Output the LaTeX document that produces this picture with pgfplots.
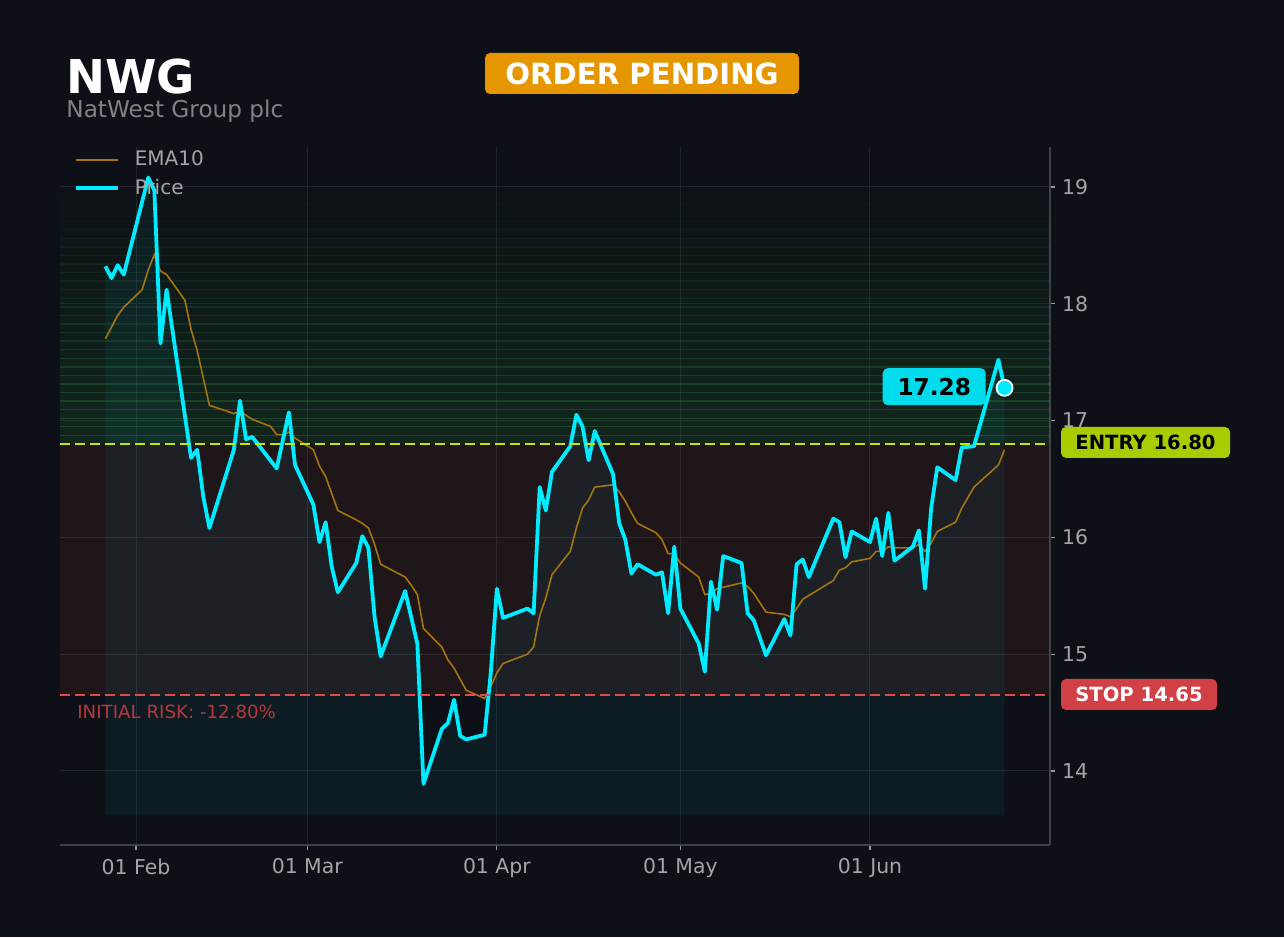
\documentclass[border=0pt]{standalone}
\usepackage{fontspec}
\setmainfont{DejaVu Sans}
\usepackage{pgfplots}
\usepackage{pgfplotstable}
\pgfplotsset{compat=1.18}

\definecolor{bgc}{RGB}{13,17,23}
\definecolor{gridc}{RGB}{32,37,44}
\definecolor{spinec}{RGB}{62,66,72}
\definecolor{tickc}{RGB}{150,150,150}
\definecolor{labc}{RGB}{165,165,165}
\definecolor{legc}{RGB}{165,165,165}
\definecolor{pricec}{RGB}{0,235,255}
\definecolor{emac}{RGB}{165,115,15}
\definecolor{greenc}{RGB}{46,160,67}
\definecolor{redzone}{RGB}{248,81,73}
\definecolor{entryc}{RGB}{200,228,0}
\definecolor{stopc}{RGB}{226,74,74}
\definecolor{entrybox}{RGB}{168,204,0}
\definecolor{stopbox}{RGB}{208,64,69}
\definecolor{orangec}{RGB}{230,150,0}
\definecolor{lastbox}{RGB}{0,220,235}
\definecolor{subc}{RGB}{130,130,130}
\definecolor{riskc}{RGB}{185,55,58}

\pgfplotstableread{
d v
26 18.32
27 18.22
28 18.33
29 18.25
33 19.08
34 18.97
35 17.66
36 18.12
40 16.68
41 16.75
42 16.35
43 16.08
47 16.75
48 17.17
49 16.84
50 16.86
54 16.59
56 17.07
57 16.62
60 16.28
61 15.96
62 16.13
63 15.75
64 15.53
67 15.78
68 16.01
69 15.91
70 15.32
71 14.98
75 15.54
77 15.09
78 13.89
81 14.36
82 14.41
83 14.61
84 14.30
85 14.27
88 14.31
89 14.84
90 15.56
91 15.31
95 15.39
96 15.35
97 16.43
98 16.23
99 16.56
102 16.78
103 17.05
104 16.95
105 16.66
106 16.91
109 16.54
110 16.12
111 15.98
112 15.69
113 15.77
116 15.68
117 15.70
118 15.35
119 15.92
120 15.39
123 15.09
124 14.85
125 15.62
126 15.38
127 15.84
130 15.78
131 15.35
132 15.29
134 14.99
137 15.30
138 15.16
139 15.77
140 15.81
141 15.66
145 16.16
146 16.13
147 15.83
148 16.05
151 15.96
152 16.16
153 15.84
154 16.21
155 15.80
158 15.92
159 16.06
160 15.56
161 16.25
162 16.60
165 16.49
166 16.77
168 16.78
172 17.52
173 17.28
}\price

\pgfplotstableread{
d v
26 17.70
28 17.90
29 17.97
32 18.12
33 18.29
34 18.42
35 18.28
36 18.25
39 18.03
40 17.78
41 17.60
43 17.13
47 17.06
48 17.08
50 17.01
53 16.95
54 16.88
55 16.88
56 16.90
57 16.85
60 16.75
61 16.61
62 16.52
64 16.23
67 16.15
68 16.12
69 16.08
70 15.94
71 15.77
75 15.66
76 15.59
77 15.51
78 15.22
81 15.06
82 14.95
83 14.88
85 14.69
88 14.62
89 14.72
90 14.84
91 14.92
95 15.00
96 15.06
97 15.33
98 15.48
99 15.68
102 15.88
103 16.08
104 16.25
105 16.32
106 16.43
109 16.45
110 16.39
111 16.31
112 16.21
113 16.12
116 16.04
117 15.98
118 15.86
119 15.86
120 15.78
123 15.66
124 15.51
125 15.52
126 15.56
130 15.61
131 15.58
132 15.52
133 15.44
134 15.36
137 15.34
138 15.32
139 15.39
140 15.47
145 15.63
146 15.72
147 15.74
148 15.79
151 15.82
152 15.88
153 15.88
154 15.92
155 15.91
158 15.91
159 15.94
160 15.88
161 15.95
162 16.05
165 16.13
166 16.25
168 16.43
172 16.62
173 16.75
}\ema

\begin{document}
\begin{tikzpicture}
\fill[bgc] (0pt,0pt) rectangle (642pt,468.5pt);
\useasboundingbox (0pt,0pt) rectangle (642pt,468.5pt);
\begin{axis}[
  at={(30pt,46pt)}, anchor=south west,
  scale only axis, width=495pt, height=349pt,
  xmin=18.575, xmax=180.43, ymin=13.366, ymax=19.342,
  clip=false,
  axis x line*=bottom, axis y line*=right,
  axis line style={-, draw=spinec, line width=0.8pt},
  every outer x axis line/.append style={-},
  every outer y axis line/.append style={-},
  xtick pos=lower, ytick pos=right, yticklabel pos=right,
  xtick={31,59,90,120,151},
  xticklabels={01 Feb,01 Mar,01 Apr,01 May,01 Jun},
  ytick={14,15,16,17,18,19},
  tick align=outside, major tick length=2.5pt,
  tick style={draw=tickc, line width=0.6pt},
  grid=major, grid style={draw=gridc, line width=0.5pt},
  ticklabel style={font=\fontsize{10.2}{12}\selectfont, text=labc},
  xticklabel style={yshift=-0.8pt},
  /pgf/number format/assume math mode=true,
  legend style={draw=none, fill=none, at={(0,1)}, anchor=north west,
    xshift=4pt, yshift=1pt, font=\fontsize{10}{12}\selectfont, text=legc,
    row sep=3.5pt, nodes={inner sep=0.8pt},
    /tikz/every odd column/.append style={column sep=6.5pt}},
  legend cell align=left,
  legend image code/.code={\draw[#1] (0pt,0pt) -- (21pt,0pt);},
]
% red zone between stop and entry
\fill[redzone, fill opacity=0.08] (axis cs:18.575,14.65) rectangle (axis cs:180.43,16.8);
% green gradient above entry
\pgfplotsinvokeforeach{0,...,29}{
  \pgfmathsetmacro\ya{16.8+#1*0.073333}
  \pgfmathsetmacro\yb{16.8+(#1+1)*0.073333}
  \pgfmathsetmacro\op{0.15*(1-#1/30)}
  \pgfmathsetmacro\lo{0.30*(1-#1/30)}
  \edef\tmp{\noexpand\fill[greenc, fill opacity=\op] (axis cs:18.575,\ya) rectangle (axis cs:180.43,\yb);
    \noexpand\draw[greenc, draw opacity=\lo, line width=0.7pt] (axis cs:18.575,\yb) -- (axis cs:180.43,\yb);}
  \tmp
}
% fill under price
\addplot[draw=none, fill=pricec, fill opacity=0.05, forget plot] table[x=d,y=v] {\price}
  -- (axis cs:173,13.62) -- (axis cs:26,13.62) -- cycle;
\addplot[emac, line width=0.8pt] table[x=d,y=v] {\ema};
\addlegendentry{EMA10}
\addplot[pricec, line width=1.9pt, line join=round] table[x=d,y=v] {\price};
\addlegendentry{Price}
% entry and stop lines
\draw[entryc, line width=1.2pt, dash pattern=on 5pt off 2.5pt] (axis cs:18.575,16.8) -- (axis cs:180.43,16.8);
\draw[stopc, line width=1.2pt, dash pattern=on 5pt off 2.5pt] (axis cs:18.575,14.65) -- (axis cs:180.43,14.65);
% last point marker
\addplot[only marks, mark=*, mark size=4pt, mark options={fill=pricec, draw=white, line width=0.9pt}, forget plot] coordinates {(173,17.28)};
\node[fill=lastbox, rounded corners=2.5pt, minimum width=51.5pt, minimum height=18.5pt, inner sep=0pt,
  font=\fontsize{11.6}{14}\selectfont\bfseries, text=black] at (axis cs:161.5,17.29) {17.28};
\node[anchor=west, inner sep=0pt, font=\fontsize{9.1}{11}\selectfont, text=riskc] at (axis cs:21.35,14.505) {INITIAL RISK: -12.80\%};
\end{axis}
% titles
\node[anchor=base west, inner sep=0pt, text=white, font=\fontsize{23.3}{28}\selectfont\bfseries] at (33pt,421.5pt) {NWG};
\node[anchor=base west, inner sep=0pt, text=subc, font=\fontsize{11.6}{14}\selectfont] at (33pt,409.8pt) {NatWest Group plc};
\node[fill=orangec, rounded corners=2.5pt, minimum width=157pt, minimum height=20.5pt, inner sep=0pt,
  text=white, font=\fontsize{14.6}{17}\selectfont\bfseries] at (321pt,431.75pt) {ORDER PENDING};
\node[fill=entrybox, rounded corners=2.5pt, minimum width=84.5pt, minimum height=15.5pt, inner sep=0pt,
  text=black, font=\fontsize{9.8}{12}\selectfont\bfseries] at (572.75pt,247.25pt) {ENTRY 16.80};
\node[fill=stopbox, rounded corners=2.5pt, minimum width=78pt, minimum height=15.5pt, inner sep=0pt,
  text=white, font=\fontsize{9.8}{12}\selectfont\bfseries] at (569.5pt,121.25pt) {STOP 14.65};
\end{tikzpicture}
\end{document}
